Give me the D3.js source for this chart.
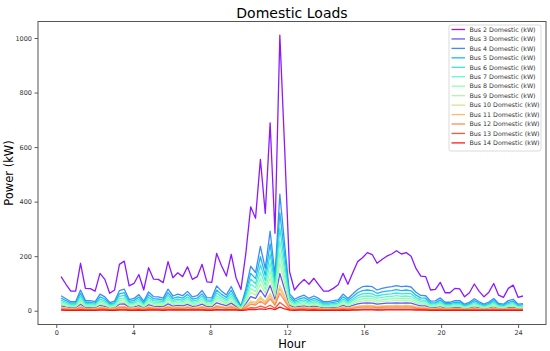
<!DOCTYPE html>
<meta charset="utf-8">
<style>
  body { margin: 0; background: #fff; }
  text { font-family: "DejaVu Sans", sans-serif; }
</style>
<body>
<svg width="550" height="351"></svg>
<script src="https://d3js.org/d3.v7.min.js"></script>
<script>

// 96 samples over the day (15 min steps, plotted from 0.25 h to 24.25 h)
var hours = d3.range(96).map(function(i) { return 0.25 + i * 24 / 95; });

var busNames = ["Bus 2 Domestic (kW)", "Bus 3 Domestic (kW)", "Bus 4 Domestic (kW)",
  "Bus 5 Domestic (kW)", "Bus 6 Domestic (kW)", "Bus 7 Domestic (kW)", "Bus 8 Domestic (kW)",
  "Bus 9 Domestic (kW)", "Bus 10 Domestic (kW)", "Bus 11 Domestic (kW)",
  "Bus 12 Domestic (kW)", "Bus 13 Domestic (kW)", "Bus 14 Domestic (kW)"];

var bus2 = [125, 97, 72, 72, 174, 82, 81, 72, 137, 115, 64, 76, 170, 182, 91, 100, 133, 76, 158, 116,
  115, 103, 180, 121, 139, 125, 161, 115, 125, 170, 106, 104, 210, 165, 127, 207, 120, 78, 210, 381,
  339, 555, 357, 689, 284, 1010, 590, 143, 76, 98, 115, 97, 119, 95, 72, 72, 82, 95, 137, 97,
  139, 180, 194, 213, 206, 174, 188, 200, 208, 220, 208, 213, 200, 155, 127, 125, 76, 78, 104, 66,
  66, 82, 80, 51, 66, 98, 71, 51, 68, 100, 57, 49, 82, 94, 49, 54];
var bus3 = [18, 14, 11, 11, 24, 12, 12, 11, 20, 16, 10, 11, 24, 25, 13, 14, 19, 11, 22, 17,
  16, 15, 25, 17, 20, 18, 23, 16, 18, 24, 15, 15, 29, 23, 19, 28, 16, 5, 26, 52,
  45, 76, 50, 93, 42, 137, 77, 20, 13, 16, 18, 14, 17, 14, 11, 11, 12, 13, 20, 14,
  20, 25, 28, 29, 28, 24, 26, 28, 28, 29, 28, 29, 28, 22, 18, 18, 11, 12, 15, 10,
  10, 12, 12, 8, 10, 14, 11, 8, 10, 14, 9, 8, 12, 13, 8, 8];
var bus4 = [55, 44, 33, 33, 76, 37, 37, 33, 61, 51, 30, 35, 74, 79, 41, 45, 59, 35, 69, 52,
  51, 46, 79, 54, 61, 55, 71, 51, 55, 74, 48, 47, 91, 72, 58, 89, 50, 17, 80, 163,
  140, 236, 155, 292, 130, 427, 240, 62, 42, 51, 57, 45, 54, 45, 33, 33, 37, 40, 61, 45,
  61, 78, 88, 90, 88, 76, 82, 86, 88, 92, 88, 90, 87, 68, 56, 55, 35, 36, 47, 31,
  31, 37, 37, 24, 31, 44, 33, 24, 32, 45, 27, 24, 37, 42, 24, 26];
var bus5 = [46, 37, 28, 28, 64, 31, 31, 28, 51, 43, 25, 29, 62, 66, 34, 38, 50, 29, 58, 44,
  43, 39, 66, 45, 51, 46, 60, 43, 46, 62, 40, 39, 76, 60, 49, 75, 42, 14, 67, 137,
  118, 198, 130, 245, 109, 359, 202, 52, 35, 43, 48, 38, 45, 38, 28, 28, 31, 34, 51, 38,
  51, 66, 74, 76, 74, 64, 69, 72, 74, 77, 74, 76, 73, 57, 47, 46, 29, 30, 39, 26,
  26, 31, 31, 20, 26, 37, 28, 20, 27, 38, 23, 20, 31, 35, 20, 22];
var bus6 = [39, 31, 23, 23, 54, 26, 26, 23, 43, 36, 21, 25, 53, 56, 29, 32, 42, 25, 49, 37,
  36, 33, 56, 38, 43, 39, 50, 36, 39, 53, 34, 33, 65, 51, 41, 63, 36, 12, 57, 116,
  99, 168, 110, 207, 92, 303, 170, 44, 30, 36, 40, 32, 38, 32, 23, 23, 26, 28, 43, 32,
  43, 55, 62, 64, 62, 54, 58, 61, 62, 65, 62, 64, 62, 48, 40, 39, 25, 26, 33, 22,
  22, 26, 26, 17, 22, 31, 23, 17, 23, 32, 19, 17, 26, 30, 17, 18];
var bus7 = [33, 26, 20, 20, 46, 22, 22, 20, 37, 31, 18, 21, 44, 47, 25, 27, 35, 21, 41, 31,
  31, 28, 47, 32, 37, 33, 43, 31, 33, 44, 29, 28, 55, 43, 35, 53, 30, 10, 48, 98,
  84, 142, 93, 175, 78, 256, 144, 37, 25, 31, 34, 27, 32, 27, 20, 20, 22, 24, 37, 27,
  37, 47, 53, 54, 53, 46, 49, 52, 53, 55, 53, 54, 52, 41, 34, 33, 21, 22, 28, 19,
  19, 22, 22, 14, 19, 26, 20, 14, 19, 27, 16, 14, 22, 25, 14, 16];
var bus8 = [28, 22, 17, 17, 38, 19, 19, 17, 31, 26, 15, 18, 37, 40, 21, 23, 30, 18, 35, 26,
  26, 23, 40, 27, 31, 28, 36, 26, 28, 37, 24, 24, 46, 36, 29, 45, 25, 9, 40, 82,
  70, 118, 78, 146, 65, 214, 120, 31, 21, 26, 29, 23, 27, 23, 17, 17, 19, 20, 31, 23,
  31, 39, 44, 45, 44, 38, 41, 43, 44, 46, 44, 45, 44, 34, 28, 28, 18, 18, 24, 16,
  16, 19, 19, 12, 16, 22, 17, 12, 16, 23, 14, 12, 19, 21, 12, 13];
var bus9 = [23, 18, 14, 14, 31, 15, 15, 14, 25, 21, 12, 14, 30, 32, 17, 18, 24, 14, 28, 21,
  21, 19, 32, 22, 25, 23, 29, 21, 23, 30, 20, 19, 37, 30, 24, 36, 21, 7, 33, 67,
  57, 97, 64, 120, 53, 175, 98, 25, 17, 21, 23, 18, 22, 18, 14, 14, 15, 16, 25, 18,
  25, 32, 36, 37, 36, 31, 34, 35, 36, 38, 36, 37, 36, 28, 23, 23, 14, 15, 19, 13,
  13, 15, 15, 10, 13, 18, 14, 10, 13, 18, 11, 10, 15, 17, 10, 11];
var bus10 = [12, 10, 7, 7, 17, 8, 8, 7, 13, 11, 7, 8, 16, 17, 9, 10, 13, 8, 15, 11,
  11, 10, 17, 12, 13, 12, 16, 11, 12, 16, 11, 10, 20, 16, 13, 20, 11, 4, 18, 36,
  31, 52, 34, 64, 29, 94, 53, 14, 9, 11, 13, 10, 12, 10, 7, 7, 8, 9, 13, 10,
  13, 17, 19, 20, 19, 17, 18, 19, 19, 20, 19, 20, 19, 15, 12, 12, 8, 8, 10, 7,
  7, 8, 8, 5, 7, 10, 7, 5, 7, 10, 6, 5, 8, 9, 5, 6];
var bus11 = [10, 8, 6, 6, 14, 7, 7, 6, 12, 10, 6, 7, 14, 15, 8, 9, 11, 7, 13, 10,
  10, 9, 15, 10, 12, 10, 13, 10, 10, 14, 9, 9, 17, 14, 11, 17, 10, 3, 15, 31,
  27, 45, 29, 55, 25, 81, 46, 12, 8, 10, 11, 9, 10, 9, 6, 6, 7, 8, 12, 9,
  12, 15, 17, 17, 17, 14, 16, 16, 17, 17, 17, 17, 17, 13, 11, 10, 7, 7, 9, 6,
  6, 7, 7, 5, 6, 8, 6, 5, 6, 9, 5, 5, 7, 8, 5, 5];
var bus12 = [8, 7, 5, 5, 11, 6, 6, 5, 9, 8, 5, 5, 11, 12, 6, 7, 9, 5, 10, 8,
  8, 7, 12, 8, 9, 8, 11, 8, 8, 11, 7, 7, 14, 11, 9, 13, 8, 3, 12, 24,
  21, 35, 23, 44, 20, 64, 36, 9, 6, 8, 9, 7, 8, 7, 5, 5, 6, 6, 9, 7,
  9, 12, 13, 14, 13, 11, 12, 13, 13, 14, 13, 14, 13, 10, 8, 8, 5, 5, 7, 5,
  5, 6, 6, 4, 5, 7, 5, 4, 5, 7, 4, 4, 6, 6, 4, 4];
var bus13 = [4, 3, 2, 2, 5, 3, 3, 2, 4, 4, 2, 2, 5, 6, 3, 3, 4, 2, 5, 4,
  4, 3, 6, 4, 4, 4, 5, 4, 4, 5, 3, 3, 6, 5, 4, 6, 4, 1, 6, 11,
  10, 17, 11, 20, 9, 30, 17, 4, 3, 4, 4, 3, 4, 3, 2, 2, 3, 3, 4, 3,
  4, 5, 6, 6, 6, 5, 6, 6, 6, 6, 6, 6, 6, 5, 4, 4, 2, 3, 3, 2,
  2, 3, 3, 2, 2, 3, 2, 2, 2, 3, 2, 2, 3, 3, 2, 2];
var bus14 = [2, 1, 1, 1, 2, 1, 1, 1, 2, 2, 1, 1, 2, 2, 1, 1, 2, 1, 2, 2,
  2, 1, 2, 2, 2, 2, 2, 2, 2, 2, 1, 1, 3, 2, 2, 3, 2, 1, 2, 5,
  4, 7, 5, 9, 4, 13, 7, 2, 1, 2, 2, 1, 2, 1, 1, 1, 1, 1, 2, 1,
  2, 2, 3, 3, 3, 2, 2, 3, 3, 3, 3, 3, 3, 2, 2, 2, 1, 1, 1, 1,
  1, 1, 1, 1, 1, 1, 1, 1, 1, 1, 1, 1, 1, 1, 1, 1];

var xTicks = [0, 4, 8, 12, 16, 20, 24];
var yTicks = [0, 200, 400, 600, 800, 1000];

var allSeries = [bus2, bus3, bus4, bus5, bus6, bus7, bus8, bus9, bus10, bus11, bus12, bus13, bus14];

// matplotlib "rainbow" colormap
function rainbow(t) {
  var r = Math.min(1, Math.abs(2 * t - 0.5));
  var g = Math.sin(Math.PI * t);
  var b = Math.cos(Math.PI * t / 2);
  return d3.rgb(r * 255, g * 255, b * 255).formatHex();
}

var svg = d3.select("svg");
var plotLeft = 38, plotRight = 546, plotTop = 21.5, plotBottom = 324.5;

var x = d3.scaleLinear().domain([-0.95, 25.45]).range([plotLeft, plotRight]);
var y = d3.scaleLinear().domain([-50.5, 1060.5]).range([plotBottom, plotTop]);

var line = d3.line()
  .x(function(d, i) { return x(hours[i]); })
  .y(function(d) { return y(d); });

var plot = svg.append("g");
plot.append("clipPath").attr("id", "clip")
  .append("rect").attr("x", plotLeft).attr("y", plotTop)
  .attr("width", plotRight - plotLeft).attr("height", plotBottom - plotTop);

plot.append("g").attr("clip-path", "url(#clip)")
  .selectAll("path")
  .data(allSeries)
  .enter().append("path")
  .attr("d", line)
  .attr("fill", "none")
  .attr("stroke", function(d, i) { return rainbow(i / (allSeries.length - 1)); })
  .attr("stroke-opacity", 0.9)
  .attr("stroke-width", 1.3)
  .attr("stroke-linejoin", "round");

// axes
var xAxis = svg.append("g")
  .attr("transform", "translate(0," + plotBottom + ")")
  .call(d3.axisBottom(x).tickValues(xTicks).tickSize(3.5).tickPadding(2.5));
var yAxis = svg.append("g")
  .attr("transform", "translate(" + plotLeft + ",0)")
  .call(d3.axisLeft(y).tickValues(yTicks).tickFormat(d3.format("d")).tickSize(3.5).tickPadding(2.5));

[xAxis, yAxis].forEach(function(a) {
  a.select(".domain").remove();
  a.selectAll(".tick line").attr("stroke", "#333").attr("stroke-width", 0.8);
  a.selectAll(".tick text").attr("fill", "#333").style("font-size", "6.5px")
    .style("font-family", "DejaVu Sans");
});

svg.append("rect")
  .attr("x", plotLeft).attr("y", plotTop)
  .attr("width", plotRight - plotLeft).attr("height", plotBottom - plotTop)
  .attr("fill", "none").attr("stroke", "#555").attr("stroke-width", 1);

// titles
svg.append("text")
  .attr("x", (plotLeft + plotRight) / 2).attr("y", 17.5)
  .attr("text-anchor", "middle")
  .style("font-size", "14px")
  .text("Domestic Loads");

svg.append("text")
  .attr("x", (plotLeft + plotRight) / 2).attr("y", 348)
  .attr("text-anchor", "middle")
  .style("font-size", "11.5px")
  .text("Hour");

svg.append("text")
  .attr("transform", "translate(13," + ((plotTop + plotBottom) / 2) + ") rotate(-90)")
  .attr("text-anchor", "middle")
  .style("font-size", "11.5px")
  .text("Power (kW)");

// legend
var legend = svg.append("g");
legend.append("rect")
  .attr("x", 449).attr("y", 25)
  .attr("width", 92).attr("height", 126)
  .attr("rx", 2)
  .attr("fill", "#fff").attr("fill-opacity", 0.8)
  .attr("stroke", "#d0d0d0").attr("stroke-width", 0.8);

var rows = legend.selectAll("g.row")
  .data(busNames)
  .enter().append("g")
  .attr("class", "row")
  .attr("transform", function(d, i) { return "translate(0," + (29.5 + i * 9.45) + ")"; });

rows.append("line")
  .attr("x1", 451.5).attr("x2", 465)
  .attr("stroke", function(d, i) { return rainbow(i / (busNames.length - 1)); })
  .attr("stroke-opacity", 0.9)
  .attr("stroke-width", 1.3);

rows.append("text")
  .attr("x", 469.5).attr("y", 2.2)
  .style("font-size", "6.3px")
  .attr("fill", "#333")
  .text(function(d) { return d; });

</script>
</body>
